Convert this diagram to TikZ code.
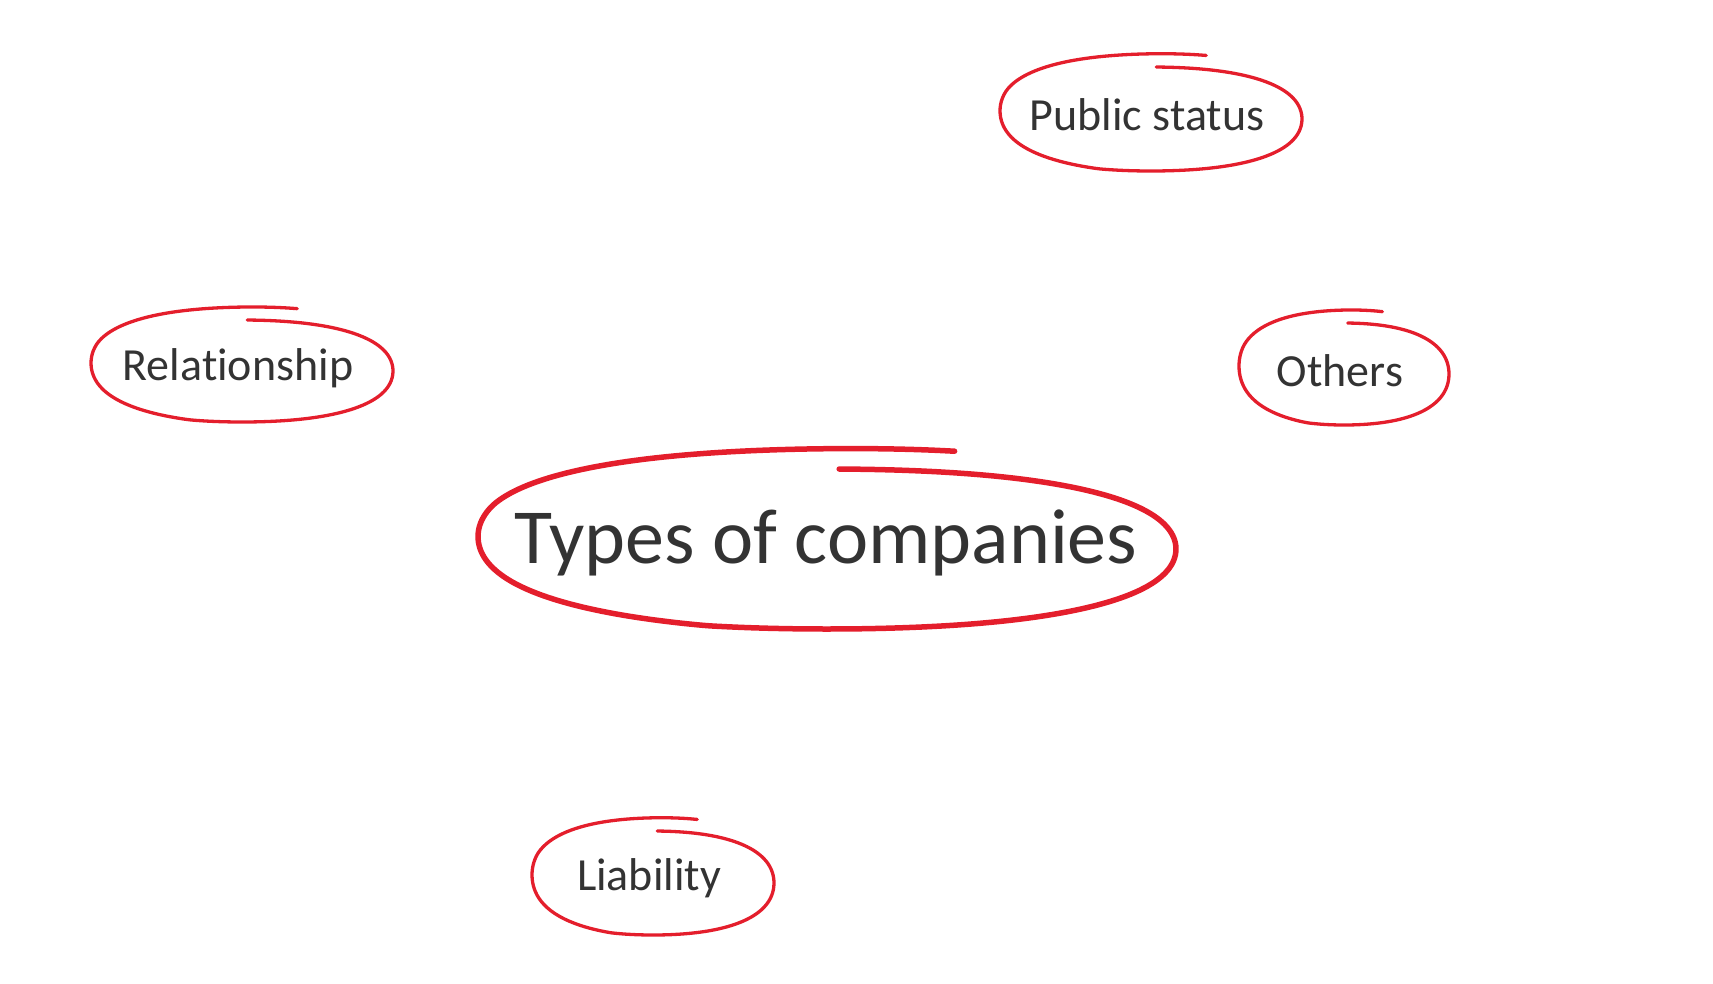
\documentclass[tikz,border=0pt]{standalone}
\usepackage{fontspec}
\setmainfont{Carlito}[Ligatures=NoCommon]
\definecolor{loopred}{RGB}{228,30,44}
\definecolor{inkgray}{RGB}{51,51,51}
\tikzset{
  loopline/.style={draw=loopred, line cap=round, line join=round},
  lbl/.style={text=inkgray, inner sep=0pt, font=\fontsize{46}{50}\selectfont},
  mainlbl/.style={text=inkgray, inner sep=0pt, font=\fontsize{78}{84}\selectfont}
}
\newcommand{\handloop}[6]{%
  \draw[loopline, line width=#6, shift={(#1.center)}, shift={(#2,#3)}, xscale=#4, yscale=#5]
    plot[smooth, domain=88:-291, samples=120, variable=\t]
      ({cos(\t)*(1+0.045*pow(sin(2*(\t)),2))},
       {-sin(\t)*(1+0.045*pow(sin(2*(\t)),2)) - 0.2*min(1,max(0,(-110-(\t))/90)) - 0.07*max(0,(-200-(\t))/91)});}
\begin{document}
\begin{tikzpicture}[x=1pt,y=-1pt]
\useasboundingbox (0,0) rectangle (1713,983);
\node[mainlbl] (main) at (826,543) {Types of companies};
\node[lbl] (pub) at (1147,115) {Public status};
\node[lbl] (rel) at (238,368) {Relationship};
\node[lbl] (oth) at (1340,371) {Others};
\node[lbl] (lia) at (649,878) {Liability};
\handloop{main}{1}{6}{349}{80}{5.5pt}
\handloop{pub}{4}{4}{151}{52}{3.3pt}
\handloop{rel}{4}{3}{151}{51}{3.3pt}
\handloop{oth}{4}{3}{105}{51}{3.3pt}
\handloop{lia}{4}{5}{121}{52}{3.3pt}
\end{tikzpicture}
\end{document}
